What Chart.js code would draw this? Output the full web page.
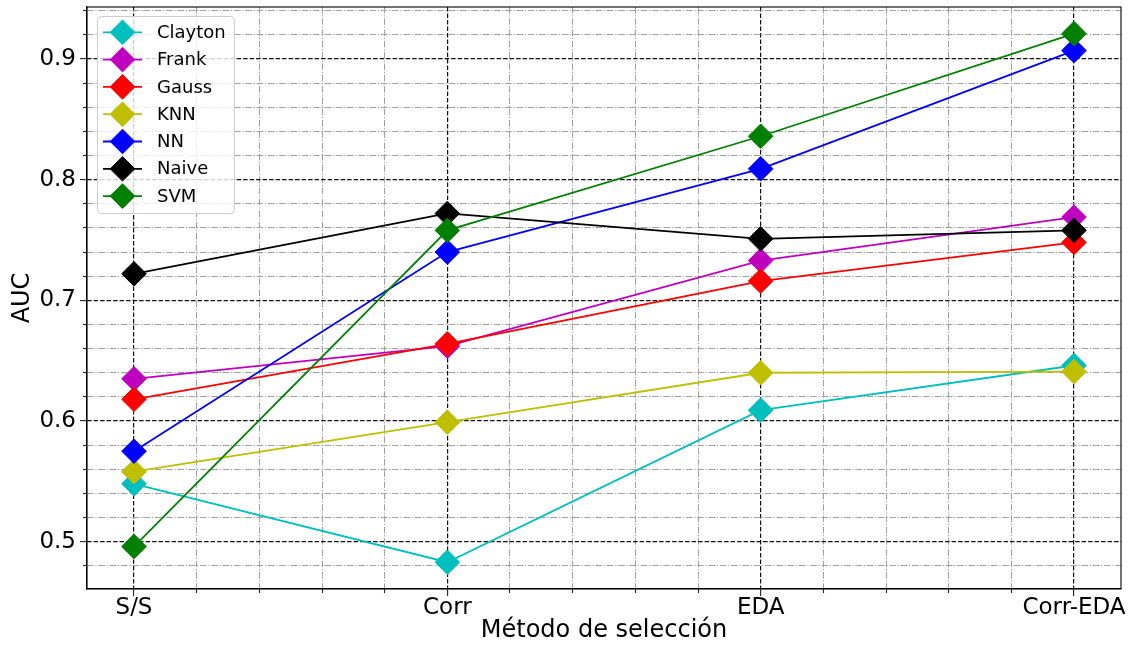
<!DOCTYPE html>
<html>
<head>
<meta charset="utf-8">
<script src="https://cdn.jsdelivr.net/npm/chart.js@4/dist/chart.umd.min.js"></script>
<style>
  html, body { margin: 0; padding: 0; background: #fff; }
  #wrap { width: 1134px; height: 651px; }
</style>
</head>
<body>
<div id="wrap"><canvas id="auc" width="1134" height="651"></canvas></div>
<script>
// categories on the x axis
const categories = ["S/S", "Corr", "EDA", "Corr-EDA"];

// AUC per method
const clayton = [0.548, 0.483, 0.609, 0.646];
const frank = [0.635, 0.662, 0.733, 0.769];
const gauss = [0.618, 0.664, 0.716, 0.748];
const knn = [0.558, 0.599, 0.640, 0.641];
const nn = [0.575, 0.740, 0.809, 0.907];
const naive = [0.722, 0.772, 0.751, 0.758];
const svm = [0.496, 0.758, 0.836, 0.921];

const seriesNames = ["Clayton", "Frank", "Gauss", "KNN", "NN", "Naive", "SVM"];
const seriesValues = [clayton, frank, gauss, knn, nn, naive, svm];
const seriesColors = ["#00bfbf", "#bf00bf", "#ff0000", "#bfbf00", "#0000ff", "#000000", "#008000"];

// axis ticks
const yMajorStep = 0.1;
const yMinorStep = 0.02;
const xMinorStep = 0.2;

const FONT = "'DejaVu Sans', 'Liberation Sans', sans-serif";

const isMajor = (v, step) => Math.abs(v / step - Math.round(v / step)) < 1e-6;

const datasets = seriesNames.map((name, i) => ({
  label: name,
  data: seriesValues[i].map((v, k) => ({ x: k, y: v })),
  borderColor: seriesColors[i],
  backgroundColor: seriesColors[i],
  borderWidth: 1.8,
  pointStyle: "rectRot",
  pointRadius: 12.3,
  pointBorderWidth: 1,
  pointHoverRadius: 12.3,
  tension: 0,
  order: seriesNames.length - i, // later series on top, like matplotlib
}));

// frame on top/right + matplotlib style legend box
const frameAndLegend = {
  id: "frameAndLegend",
  afterDatasetsDraw(chart) {
    const { ctx, chartArea: a } = chart;
    ctx.save();
    ctx.strokeStyle = "#000";
    ctx.lineWidth = 1.1;
    ctx.strokeRect(a.left, a.top, a.right - a.left, a.bottom - a.top);

    const lx = a.left + 10, ly = a.top + 9;
    const rowH = 27.3, w = 137, h = 197;
    ctx.beginPath();
    ctx.roundRect(lx + 0.5, ly + 0.5, w, h, 4);
    ctx.fillStyle = "rgba(255,255,255,0.8)";
    ctx.fill();
    ctx.strokeStyle = "#cccccc";
    ctx.lineWidth = 1;
    ctx.stroke();

    ctx.font = "18px " + FONT;
    ctx.textBaseline = "middle";
    ctx.textAlign = "left";
    seriesNames.forEach((name, i) => {
      const cy = ly + 16.3 + i * rowH;
      const cx = lx + 25.5;
      ctx.strokeStyle = seriesColors[i];
      ctx.fillStyle = seriesColors[i];
      ctx.lineWidth = 1.8;
      ctx.beginPath();
      ctx.moveTo(lx + 6, cy);
      ctx.lineTo(lx + 45, cy);
      ctx.stroke();
      const r = 12.3;
      ctx.beginPath();
      ctx.moveTo(cx - r, cy);
      ctx.lineTo(cx, cy - r);
      ctx.lineTo(cx + r, cy);
      ctx.lineTo(cx, cy + r);
      ctx.closePath();
      ctx.fill();
      ctx.lineWidth = 1;
      ctx.stroke();
      ctx.fillStyle = "#000";
      ctx.fillText(name, lx + 60, cy + 1);
    });
    ctx.restore();
  },
};

const config = {
  type: "line",
  data: { datasets: datasets },
  options: {
    responsive: false,
    animation: false,
    devicePixelRatio: 1,
    layout: { autoPadding: false, padding: { top: 7, right: 13, left: 0, bottom: 0 } },
    plugins: {
      legend: { display: false },
      tooltip: { enabled: false },
    },
    scales: {
      x: {
        type: "linear",
        min: -0.15,
        max: 3.15,
        afterFit: (s) => {
          s.height = 62;
          s.paddingLeft = 0;
          s.paddingRight = 0;
        },
        afterBuildTicks: (s) => {
          const t = [];
          for (let k = 0; k <= (categories.length - 1) / xMinorStep + 1e-6; k++) {
            t.push({ value: +(k * xMinorStep).toFixed(4) });
          }
          s.ticks = t;
        },
        ticks: {
          autoSkip: false,
          maxRotation: 0,
          padding: 1,
          color: "#000",
          font: { family: FONT, size: 23, lineHeight: 1 },
          callback: (v) => (isMajor(v, 1) ? categories[Math.round(v)] : ""),
        },
        grid: {
          color: (c) => (c.tick && isMajor(c.tick.value, 1) ? "#111" : "#a0a0a0"),
          lineWidth: (c) => (c.tick && isMajor(c.tick.value, 1) ? 1.2 : 1),
          tickColor: "#222",
          tickLength: 7,
          tickWidth: 1.1,
          tickBorderDash: (c) => (c.tick && isMajor(c.tick.value, 1) ? [] : [4, 30]),
          tickBorderDashOffset: 0,
        },
        border: {
          display: true,
          color: "#000",
          width: 1.1,
          dash: (c) => (!c.tick ? [] : isMajor(c.tick.value, 1) ? [4.5, 2] : [6.5, 1.8, 1.2, 1.8]),
        },
        title: {
          display: true,
          text: "Método de selección",
          color: "#000",
          font: { family: FONT, size: 24 },
          padding: { top: 0, bottom: 6 },
        },
      },
      y: {
        type: "linear",
        min: 0.4608,
        max: 0.9431,
        afterFit: (s) => {
          s.width = 87;
          s.paddingTop = 0;
          s.paddingBottom = 0;
        },
        afterBuildTicks: (s) => {
          const t = [];
          for (let k = 24; k <= 47; k++) {
            t.push({ value: +(k * yMinorStep).toFixed(4) });
          }
          s.ticks = t;
        },
        ticks: {
          autoSkip: false,
          padding: 4,
          color: "#000",
          font: { family: FONT, size: 23 },
          callback: (v) => (isMajor(v, yMajorStep) ? v.toFixed(1) : ""),
        },
        grid: {
          color: (c) => (c.tick && isMajor(c.tick.value, yMajorStep) ? "#111" : "#a0a0a0"),
          lineWidth: (c) => (c.tick && isMajor(c.tick.value, yMajorStep) ? 1.2 : 1),
          tickColor: "#222",
          tickLength: 7,
          tickWidth: 1.1,
          tickBorderDash: (c) => (c.tick && isMajor(c.tick.value, yMajorStep) ? [] : [4, 30]),
          tickBorderDashOffset: (c) => (c.tick && isMajor(c.tick.value, yMajorStep) ? 0 : 31),
        },
        border: {
          display: true,
          color: "#000",
          width: 1.1,
          dash: (c) => (!c.tick ? [] : isMajor(c.tick.value, yMajorStep) ? [4.5, 2] : [6.5, 1.8, 1.2, 1.8]),
        },
        title: {
          display: true,
          text: "AUC",
          color: "#000",
          font: { family: FONT, size: 24 },
          padding: { top: 8, bottom: 0 },
        },
      },
    },
  },
  plugins: [frameAndLegend],
};

const aucChart = new Chart(document.getElementById("auc"), config);
</script>
</body>
</html>
